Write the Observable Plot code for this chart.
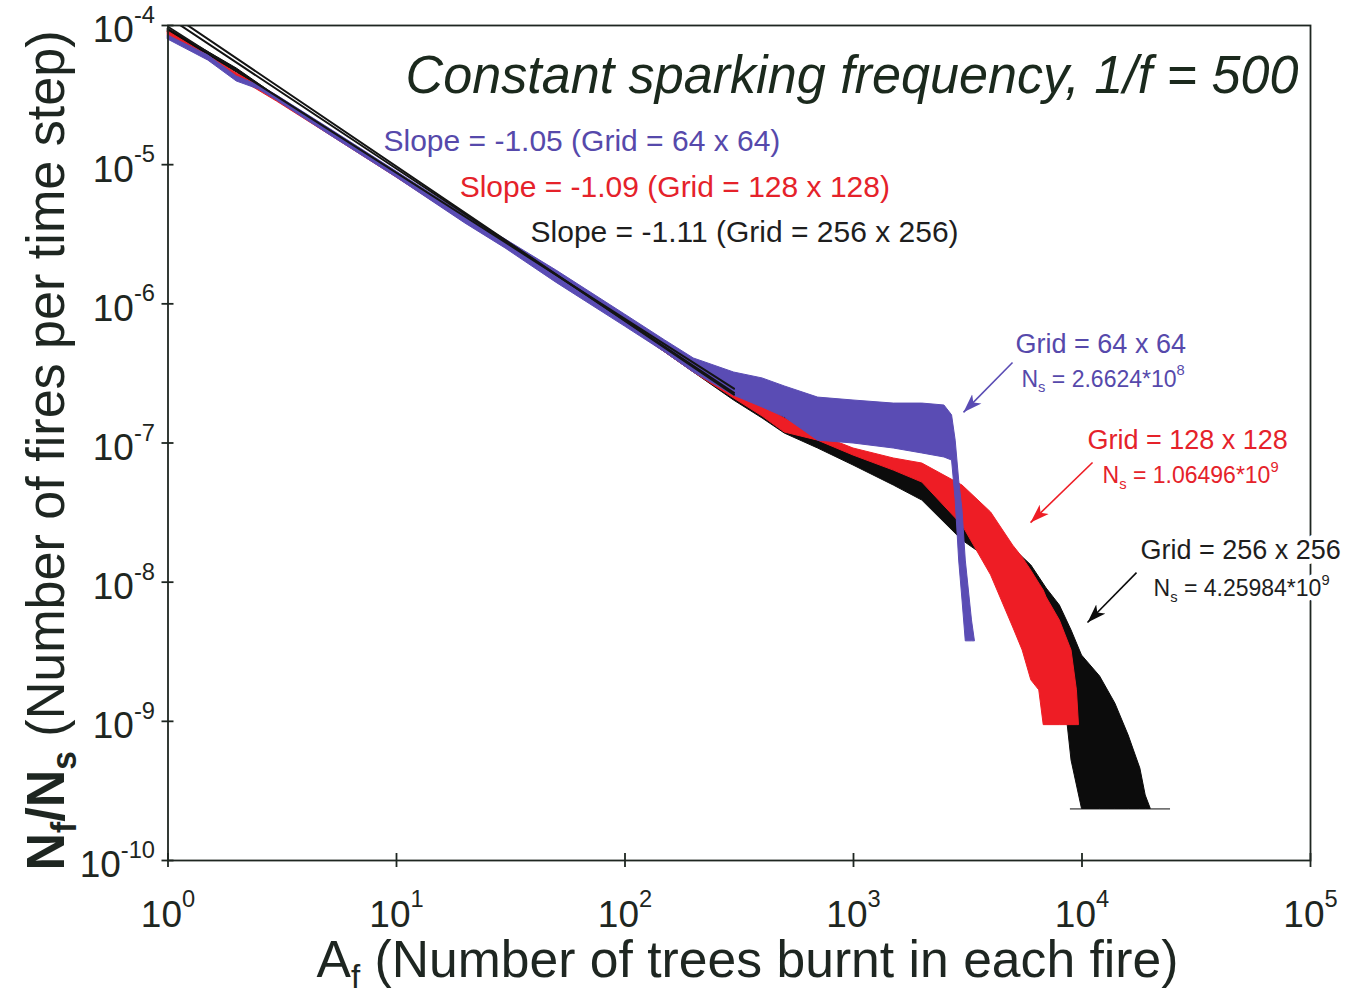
<!DOCTYPE html>
<html>
<head>
<meta charset="utf-8">
<script src="https://cdn.jsdelivr.net/npm/d3@7"></script>
<script src="https://cdn.jsdelivr.net/npm/@observablehq/plot@0.6"></script>
<style>
  html, body { margin: 0; padding: 0; background: #fff; }
  #chart svg { display: block; }
</style>
</head>
<body>
<div id="chart"></div>
<script>
// Forest-fire model: number of fires per time step against fire size,
// for three grid sizes at a constant sparking frequency (1/f = 500).

// Number of sparking steps per run; 1/Ns is the lowest non-zero frequency.
const gridNames = ["64 x 64", "128 x 128", "256 x 256"];
const sparkSteps = [2.6624e8, 1.06496e9, 4.25984e9];
const floor64 = 1 / sparkSteps[0];
const floor128 = 1 / sparkSteps[1];
const floor256 = 1 / sparkSteps[2];

// Grid 256 x 256: spread of the noisy distribution (upper / lower edge).
const blackA  = [1, 2, 3, 5, 10, 20, 30, 50, 100, 150, 200, 300, 400, 500, 700, 1000,
                 1500, 2000, 3000, 4000, 5000, 6000, 7000, 8000, 9000, 10000,
                 12000, 14000, 16000, 18000, 19000, 20000];
const blackHi = [9.51e-5, 4.91e-5, 3.09e-5, 1.82e-5, 8.78e-6, 4.24e-6, 2.85e-6, 1.65e-6,
                 8.11e-7, 5.28e-7, 3.92e-7, 2.59e-7, 1.92e-7, 1.55e-7, 1.11e-7, 8.69e-8,
                 7.24e-8, 6.56e-8, 4.56e-8, 3.01e-8, 1.75e-8, 1.32e-8, 9.01e-9, 6.80e-9,
                 4.50e-9, 2.97e-9, 2.10e-9, 1.34e-9, 7.91e-10, 4.58e-10, 2.93e-10, floor256];
const blackLo = [8.91e-5, 4.59e-5, 2.89e-5, 1.70e-5, 8.22e-6, 3.90e-6, 2.58e-6, 1.50e-6,
                 7.10e-7, 4.47e-7, 3.21e-7, 2.02e-7, 1.50e-7, 1.17e-7, 9.13e-8, 6.89e-8,
                 4.95e-8, 3.86e-8, 1.99e-8, 1.43e-8, 9.95e-9, 6.80e-9, 4.50e-9, 3.12e-9,
                 5.23e-10, floor256, floor256, floor256, floor256, floor256, floor256, floor256];
// single-fire events of the largest grid, spread along the lowest level
const blackFloorSpan = [8900, 24400];

// Grid 128 x 128
const redA  = [1, 2, 3, 5, 10, 20, 30, 50, 100, 150, 200, 300, 400, 500, 700, 1000,
               1500, 2000, 3000, 4000, 5000, 5500, 6000, 6500, 6800, 7000, 8000, 9000, 9500, 9700];
const redHi = [9.06e-5, 4.52e-5, 3.09e-5, 1.82e-5, 8.78e-6, 4.24e-6, 2.85e-6, 1.65e-6,
               8.11e-7, 5.28e-7, 3.79e-7, 2.55e-7, 1.89e-7, 1.50e-7, 1.15e-7, 9.13e-8,
               7.74e-8, 7.12e-8, 4.95e-8, 3.17e-8, 1.83e-8, 1.50e-8, 1.21e-8, 9.78e-9,
               8.71e-9, 7.76e-9, 5.31e-9, 3.23e-9, 1.67e-9, floor128];
const redLo = [8.48e-5, 4.23e-5, 2.84e-5, 1.67e-5, 8.09e-6, 3.84e-6, 2.54e-6, 1.47e-6,
               7.10e-7, 4.47e-7, 3.21e-7, 2.09e-7, 1.55e-7, 1.19e-7, 1.04e-7, 8.13e-8,
               6.34e-8, 5.20e-8, 2.55e-8, 1.12e-8, 4.72e-9, 3.23e-9, 1.97e-9, 1.67e-9,
               floor128, floor128, floor128, floor128, floor128, floor128];

// Grid 64 x 64
const blueA  = [1, 1.5, 2, 2.5, 3, 5, 10, 20, 30, 50, 100, 150, 200, 300, 400, 500, 700,
                1000, 1500, 2000, 2500, 2700, 2800, 2900, 3000, 3100, 3300, 3400];
const blueHi = [8.48e-5, 6.09e-5, 4.30e-5, 3.71e-5, 3.14e-5, 1.85e-5, 8.93e-6, 4.31e-6,
                2.90e-6, 1.74e-6, 8.38e-7, 5.45e-7, 4.05e-7, 3.21e-7, 2.91e-7, 2.55e-7,
                2.12e-7, 2.02e-7, 1.92e-7, 1.92e-7, 1.86e-7, 1.58e-7, 1.04e-7, 5.38e-8,
                3.27e-8, 1.43e-8, 5.31e-9, floor64];
const blueLo = [7.93e-5, 5.60e-5, 3.96e-5, 3.47e-5, 2.89e-5, 1.67e-5, 8.09e-6, 3.78e-6,
                2.50e-6, 1.42e-6, 6.87e-7, 4.47e-7, 3.21e-7, 2.19e-7, 1.80e-7, 1.53e-7,
                1.04e-7, 9.92e-8, 9.13e-8, 8.41e-8, 7.87e-8, 7.48e-8, 3.86e-8, 1.43e-8,
                7.38e-9, floor64, floor64, floor64];

// Power-law fits  N/Ns = k * A^slope  over the scaling range
const fitSlopes = [-1.05, -1.09, -1.11];
const fitPrefactors = [9.8e-5, 1.15e-4, 1.25e-4];
const fitRange = [1, 300];

// Axes
const xDomain = [1, 1e5];
const yDomain = [1e-10, 1e-4];
const xTickValues = [1, 10, 100, 1e3, 1e4, 1e5];
const xTickLabels = ["10^{0}", "10^{1}", "10^{2}", "10^{3}", "10^{4}", "10^{5}"];
const yTickValues = [1e-4, 1e-5, 1e-6, 1e-7, 1e-8, 1e-9, 1e-10];
const yTickLabels = ["10^{-4}", "10^{-5}", "10^{-6}", "10^{-7}", "10^{-8}", "10^{-9}", "10^{-10}"];

// Annotations (anchored in data coordinates)
const slopeLabels = ["Slope = -1.05 (Grid = 64 x 64)", "Slope = -1.09 (Grid = 128 x 128)", "Slope = -1.11 (Grid = 256 x 256)"];
const slopeLabelX = [8.77, 18.9, 38.6];
const slopeLabelY = [1.26e-5, 5.90e-6, 2.80e-6];
const gridLabels = ["Grid = 64 x 64", "Grid = 128 x 128", "Grid = 256 x 256"];
const gridLabelX = [5120, 10570, 18030];
const gridLabelY = [4.40e-7, 9.13e-8, 1.46e-8];
const nsLabels = ["N_{s} = 2.6624*10^{8}", "N_{s} = 1.06496*10^{9}", "N_{s} = 4.25984*10^{9}"];
const nsLabelX = [5433, 12300, 20560];
const nsLabelY = [2.51e-7, 5.12e-8, 7.89e-9];
const arrowFromX = [4966, 11120, 17320];
const arrowFromY = [3.79e-7, 7.24e-8, 1.17e-8];
const arrowToX = [3029, 5953, 10570];
const arrowToY = [1.66e-7, 2.68e-8, 5.13e-9];

const titleText = "Constant sparking frequency, 1/f = 500";
const xTitle = "A_{f} (Number of trees burnt in each fire)";
const yTitle = "**N_{f}/N_{s}** (Number of fires per time step)";

// Styling
const font = "'Liberation Sans', Arial, Helvetica, sans-serif";
const axisInk = "#1e2621";
const seriesColor = ["#5a4cb4", "#ee1d25", "#0c0c0c"];
const labelColor = ["#5649ab", "#e5222a", "#1e1e1e"];

// ---- build rows ----
const bandRows = (A, lo, hi) => A.map((a, i) => ({a, lo: lo[i], hi: hi[i]}));
const blackRows = bandRows(blackA, blackLo, blackHi);
const redRows = bandRows(redA, redLo, redHi);
const blueRows = bandRows(blueA, blueLo, blueHi);

const fitRows = fitSlopes.flatMap((s, g) =>
  fitRange.map((a) => ({g, a, v: fitPrefactors[g] * Math.pow(a, s)})));

const idx = [0, 1, 2];
const slopeRows = idx.map((i) => ({x: slopeLabelX[i], y: slopeLabelY[i], t: slopeLabels[i], c: labelColor[i]}));
const gridRows = idx.map((i) => ({x: gridLabelX[i], y: gridLabelY[i], t: gridLabels[i], c: labelColor[i]}));
const nsRows = idx.map((i) => ({x: nsLabelX[i], y: nsLabelY[i], t: nsLabels[i], c: labelColor[i]}));
const arrowRows = idx.map((i) => ({x1: arrowFromX[i], y1: arrowFromY[i], x2: arrowToX[i], y2: arrowToY[i], c: seriesColor[i]}));
const xTickRows = xTickValues.map((v, i) => ({v, t: xTickLabels[i]}));
const yTickRows = yTickValues.map((v, i) => ({v, t: yTickLabels[i]}));

const band = (rows, color) => Plot.areaY(rows, {
  x: "a", y1: "lo", y2: "hi", fill: color, stroke: color, strokeWidth: 1, curve: "linear"
});

// the black labels cross the right border, so they get a white backing first
const labelOpts = (size) => ({x: "x", y: "y", text: "t", textAnchor: "start", lineAnchor: "bottom",
  fontSize: size, fontFamily: font});
const haloOpts = {fill: "#fff", stroke: "#fff", strokeWidth: 10, strokeLinejoin: "round"};

const chart = Plot.plot({
  width: 1350,
  height: 992,
  marginLeft: 167.5,
  marginRight: 40,
  marginTop: 25,
  marginBottom: 132,
  style: {fontFamily: font, background: "#fff", overflow: "visible"},
  x: {type: "log", domain: xDomain, axis: null},
  y: {type: "log", domain: yDomain, axis: null},
  marks: [
    band(blackRows, seriesColor[2]),
    Plot.ruleY([floor256], {x1: blackFloorSpan[0], x2: blackFloorSpan[1], stroke: seriesColor[2], strokeWidth: 1}),
    band(redRows, seriesColor[1]),
    band(blueRows, seriesColor[0]),
    Plot.line(fitRows, {x: "a", y: "v", z: "g", stroke: "#141414", strokeWidth: 2, clip: true}),
    Plot.frame({stroke: axisInk, strokeWidth: 1.8}),
    Plot.ruleX(xTickValues, {y1: () => yDomain[0], y2: () => yDomain[0], insetTop: -7, insetBottom: -7, stroke: axisInk, strokeWidth: 1.8}),
    Plot.ruleY(yTickValues, {x1: () => xDomain[0], x2: () => xDomain[0], insetLeft: -6, insetRight: -6, stroke: axisInk, strokeWidth: 1.8}),
    Plot.text(xTickRows, {x: "v", y: () => yDomain[0], text: "t", dy: 66, lineAnchor: "bottom", textAnchor: "middle",
      fontSize: 37, fontFamily: font, fill: axisInk}),
    Plot.text(yTickRows, {x: () => xDomain[0], y: "v", text: "t", dx: -13, dy: 5, lineAnchor: "middle", textAnchor: "end",
      fontSize: 37, fontFamily: font, fill: axisInk}),
    Plot.text([titleText], {text: (d) => d, frameAnchor: "top-left", dx: 237.5, dy: 67, lineAnchor: "bottom",
      textAnchor: "start", fontSize: 53, fontStyle: "italic", fontFamily: font, fill: "#1b291d"}),
    Plot.text([xTitle], {text: (d) => d, frameAnchor: "bottom-left", dx: 148.5, dy: 116, lineAnchor: "bottom",
      textAnchor: "start", fontSize: 52, fontFamily: font, fill: axisInk}),
    Plot.text([yTitle], {text: (d) => d, frameAnchor: "left", dx: -121.5, dy: 7.5, rotate: -90, lineAnchor: "middle",
      textAnchor: "middle", fontSize: 54, fontFamily: font, fill: axisInk}),
    Plot.text(slopeRows, {...labelOpts(30), fill: "c"}),
    Plot.link(arrowRows, {x1: "x1", y1: "y1", x2: "x2", y2: "y2", stroke: "c", strokeWidth: 1.6}),
    Plot.text(gridRows.slice(2), {...labelOpts(27), ...haloOpts}),
    Plot.text(nsRows.slice(2), {...labelOpts(23), ...haloOpts}),
    Plot.text(gridRows, {...labelOpts(27), fill: "c"}),
    Plot.text(nsRows, {...labelOpts(23), fill: "c"})
  ]
});

document.getElementById("chart").appendChild(chart);

// Turn ^{..} / _{..} into raised / lowered spans and **..** into bold.
const plain = (s) => s.replace(/\*\*/g, "").replace(/[\^_]\{([^}]*)\}/g, "$1");
function richify(root) {
  root.querySelectorAll("text").forEach((el) => {
    const src = el.textContent;
    if (!/\^\{|_\{|\*\*/.test(src)) return;
    const fs = parseFloat(getComputedStyle(el).fontSize) || 16;
    const tokens = src.split(/(\^\{[^}]*\}|_\{[^}]*\}|\*\*)/).filter((t) => t !== "");
    el.textContent = "";
    let bold = false;
    let shift = 0;
    for (const t of tokens) {
      if (t === "**") { bold = !bold; continue; }
      const m = /^([\^_])\{([^}]*)\}$/.exec(t);
      const span = document.createElementNS("http://www.w3.org/2000/svg", "tspan");
      let target = 0;
      let text = t;
      if (m) {
        text = m[2];
        target = m[1] === "^" ? -0.52 * fs : 0.22 * fs;
        span.setAttribute("font-size", (0.64 * fs).toFixed(2));
      }
      const d = target - shift;
      if (d !== 0) span.setAttribute("dy", d.toFixed(2));
      shift = target;
      if (bold) span.setAttribute("font-weight", "bold");
      span.textContent = text;
      el.appendChild(span);
    }
  });
}
richify(chart);

// Fit the long titles to their widths.
const fitWidths = new Map([[plain(titleText), 893], [plain(xTitle), 862], [plain(yTitle), 840]]);
chart.querySelectorAll("text").forEach((el) => {
  const len = fitWidths.get(el.textContent);
  if (len) {
    el.setAttribute("textLength", len);
    el.setAttribute("lengthAdjust", "spacingAndGlyphs");
  }
});

// Solid arrowheads on the annotation pointers (the only paths with their own stroke).
const svgSel = d3.select(chart);
const defs = svgSel.insert("defs", ":first-child");
svgSel.selectAll("path[stroke]").each(function (d, i) {
  const color = this.getAttribute("stroke");
  if (!seriesColor.includes(color)) return;
  const id = `pointer-head-${i}`;
  defs.append("marker")
    .attr("id", id)
    .attr("viewBox", "-19 -7 19 14")
    .attr("refX", 0).attr("refY", 0)
    .attr("markerWidth", 19).attr("markerHeight", 14)
    .attr("markerUnits", "userSpaceOnUse")
    .attr("orient", "auto")
    .append("path")
    .attr("d", "M0,0L-19,-6.5L-14,0L-19,6.5Z")
    .attr("fill", color);
  this.setAttribute("marker-end", `url(#${id})`);
});
</script>
</body>
</html>
